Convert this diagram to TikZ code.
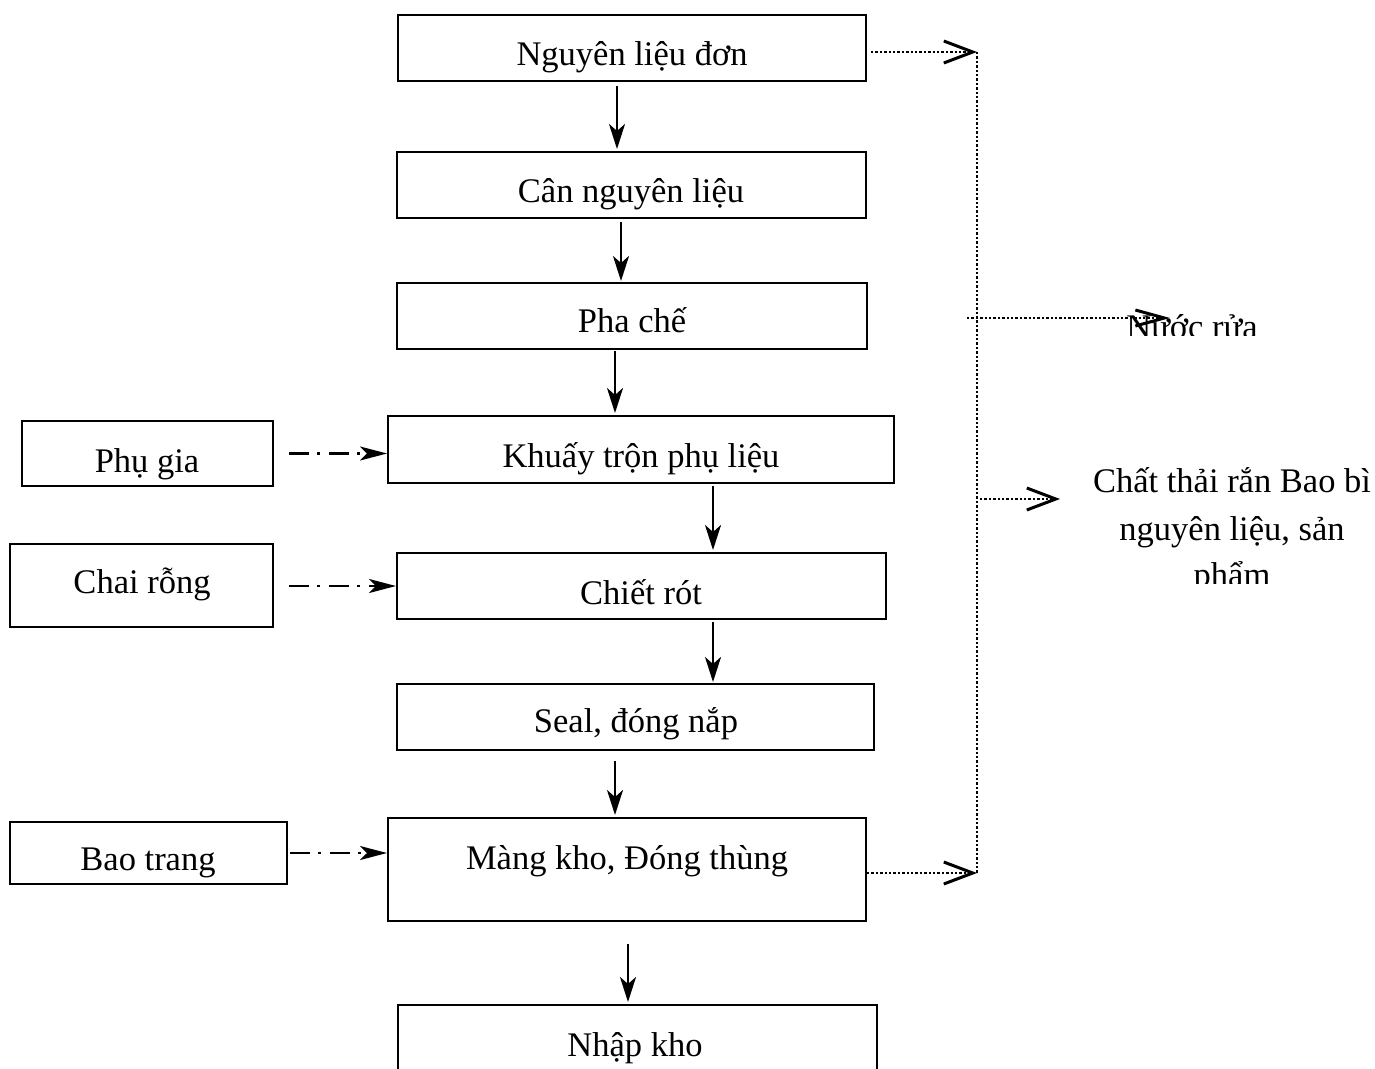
\documentclass[tikz,border=0pt]{standalone}
\usepackage{fontspec}
\setmainfont{Liberation Serif}
\usetikzlibrary{arrows.meta,calc}

\tikzset{
  box/.style={draw, line width=2pt, inner sep=0pt},
  txt/.style={inner sep=0pt, anchor=base, font=\fontsize{34.5}{46.5}\selectfont},
  flow/.style={line width=2.6pt, -{Stealth[length=25pt, width=16pt, inset=7pt]}},
  feed/.style={line width=2.2pt, dash pattern=on 20pt off 8pt on 3pt off 9pt,
    -{Stealth[length=27pt, width=14pt, inset=7pt]}},
  dotline/.style={line width=2.6pt, dash pattern=on 2.4pt off 2pt},
  barb/.style={-{Straight Barb[length=29pt, width=22pt, line width=3pt]}},
}

\begin{document}
\begin{tikzpicture}[x=1pt, y=-1pt]
\clip (0,0) rectangle (1375,1068);

% main process column
\node[box, minimum width=468pt, minimum height=66pt] (b1) at (632,48) {};
\node[box, minimum width=469pt, minimum height=66pt] (b2) at (631.5,185) {};
\node[box, minimum width=470pt, minimum height=66pt] (b3) at (632,316) {};
\node[box, minimum width=506pt, minimum height=67pt] (b4) at (641,449.5) {};
\node[box, minimum width=489pt, minimum height=66pt] (b5) at (641.5,586) {};
\node[box, minimum width=477pt, minimum height=66pt] (b6) at (635.5,717) {};
\node[box, minimum width=478pt, minimum height=103pt] (b7) at (627,869.5) {};
\node[box, minimum width=479pt, minimum height=75pt] (b8) at (637.5,1042.5) {};

\node[txt] (t1) at (632,65) {Nguyên liệu đơn};
\node[txt] (t2) at (631,202) {Cân nguyên liệu};
\node[txt] (t3) at (632,332) {Pha chế};
\node[txt] (t4) at (641,467) {Khuấy trộn phụ liệu};
\node[txt] (t5) at (641,604) {Chiết rót};
\node[txt] (t6) at (636,732) {Seal, đóng nắp};
\node[txt] (t7) at (627,869) {Màng kho, Đóng thùng};
\node[txt] (t8) at (635,1056) {Nhập kho};

% side inputs
\node[box, minimum width=251pt, minimum height=65pt] (p1) at (147.5,453.5) {};
\node[box, minimum width=263pt, minimum height=83pt] (p2) at (141.5,585.5) {};
\node[box, minimum width=277pt, minimum height=62pt] (p3) at (148.5,853) {};
\node[txt] (s1) at (147,472) {Phụ gia};
\node[txt] (s2) at (142,593) {Chai rỗng};
\node[txt] (s3) at (148,870) {Bao trang};

% main flow arrows
\draw[flow] ($(b1.south -| 617,0)+(0,4)$) -- ($(b2.north -| 617,0)+(0,-2)$);
\draw[flow] ($(b2.south -| 621,0)+(0,3)$) -- ($(b3.north -| 621,0)+(0,-1)$);
\draw[flow] ($(b3.south -| 615,0)+(0,1)$) -- ($(b4.north -| 615,0)+(0,-2)$);
\draw[flow] ($(b4.south -| 713,0)+(0,2)$) -- ($(b5.north -| 713,0)+(0,-2)$);
\draw[flow] ($(b5.south -| 713,0)+(0,2)$) -- ($(b6.north -| 713,0)+(0,-1)$);
\draw[flow] ($(b6.south -| 615,0)+(0,10)$) -- ($(b7.north -| 615,0)+(0,-2)$);
\draw[flow] ($(b7.south -| 628,0)+(0,22)$) -- ($(b8.north -| 628,0)+(0,-2)$);

% auxiliary feeds
\draw[feed] ([xshift=15pt]p1.east) -- (p1.east -| b4.west);
\draw[feed] ([xshift=15pt,yshift=-0.5pt]p2.east) -- ([yshift=-0.5pt]p2.east -| b5.west);
\draw[feed] ([xshift=2pt]p3.east) -- (p3.east -| b7.west);

% waste collection
\coordinate (busTop) at (977,52);
\coordinate (busBot) at (977,873);
\coordinate (busMidA) at (967,318);
\coordinate (busMidB) at (980,499);
\coordinate (water) at (1170,318);
\coordinate (solid) at (1060,499);

\draw[dotline] (busTop) -- (busBot);
\draw[dotline, barb] ($(b1.east)+(4,4)$) -- (busTop);
\draw[dotline, barb] ($(b7.east)+(0,3.5)$) -- (busBot);
\draw[dotline, -{Straight Barb[length=29pt, width=16pt, line width=3pt]}] (busMidA) -- (water);
\draw[dotline, barb] (busMidB) -- (solid);

% waste labels, cut off at the bottom of their frames
\begin{scope}
  \clip (1080,280) rectangle (1300,335);
  \node[txt] (nuoc) at (1192,338) {Nước rửa};
\end{scope}
\begin{scope}
  \clip (1080,440) rectangle (1375,583);
  \node[txt] (ctr1) at (1232,492) {Chất thải rắn Bao bì};
  \node[txt] (ctr2) at (1232,540) {nguyên liệu, sản};
  \node[txt] (ctr3) at (1232,586) {phẩm};
\end{scope}
\end{tikzpicture}
\end{document}
